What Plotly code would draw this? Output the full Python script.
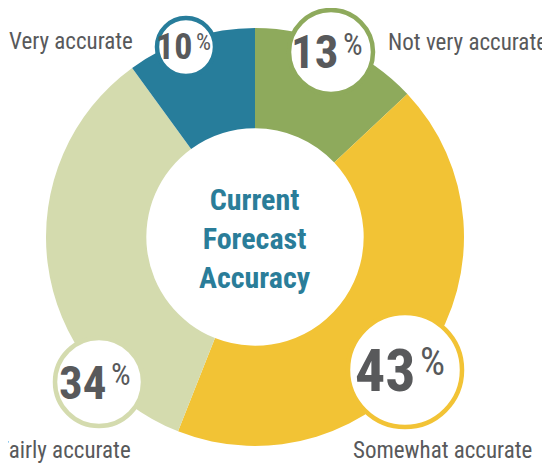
import plotly.graph_objects as go

# ── Data ──────────────────────────────────────────────────────────────────
labels = ["Not very accurate", "Somewhat accurate", "Fairly accurate", "Very accurate"]
values = [13, 43, 34, 10]
colors = ["#8eaa5c", "#f2c335", "#d4dbae", "#277d9b"]

# page is drawn with an 8px body margin, so the figure is a little smaller
OFF = 8
W, H = 550 - OFF, 464 - OFF

# badge placement in page pixels (cx, cy, radius, font size)
badges = [(331, 52, 42, 47), (405, 370, 57, 60), (99, 382, 44, 47), (186, 47, 29, 36)]
# label placement in page pixels (x, y, anchor)
label_pos = [(386, 42, "left"), (442, 450, "center"), (133, 450, "right"), (135, 41, "right")]

TEXT_GREY = "#58595b"
TEAL = "#2a7d99"
FONT = "Roboto Condensed, DejaVu Sans Condensed, sans-serif"


def px(x):
    return (x - OFF) / W


def py(y):
    return 1 - (y - OFF) / H


cx, cy, R = 255, 237, 209

fig = go.Figure(
    go.Pie(
        labels=labels, values=values,
        marker=dict(colors=colors, line=dict(width=0)),
        hole=0.52, sort=False, direction="clockwise", rotation=0,
        textinfo="none", hoverinfo="label+percent",
        domain=dict(x=[px(cx - R), px(cx + R)], y=[py(cy + R), py(cy - R)]),
        showlegend=False,
    )
)

# ── Percentage badges ─────────────────────────────────────────────────────
for (bx, by, br, fs), v, c in zip(badges, values, colors):
    fig.add_shape(
        type="circle", xref="paper", yref="paper", layer="above",
        x0=px(bx - br), x1=px(bx + br), y0=py(by + br), y1=py(by - br),
        fillcolor="white", line=dict(color=c, width=4.5),
    )
    # big number
    fig.add_annotation(
        x=px(bx + 0.22 * fs), y=py(by), xref="paper", yref="paper", showarrow=False,
        xanchor="right", yanchor="middle", text=f"<b>{v}</b>",
        font=dict(family=FONT, size=fs, color=TEXT_GREY),
    )
    # small raised percent sign
    fig.add_annotation(
        x=px(bx + 0.21 * fs), y=py(by - 0.15 * fs), xref="paper", yref="paper", showarrow=False,
        xanchor="left", yanchor="middle", text="%",
        font=dict(family=FONT, size=fs * 0.66, color=TEXT_GREY),
    )

# ── Category labels ───────────────────────────────────────────────────────
for (lx, ly, anc), lab in zip(label_pos, labels):
    fig.add_annotation(
        x=px(lx), y=py(ly), xref="paper", yref="paper", showarrow=False,
        xanchor=anc, yanchor="middle", text=lab,
        font=dict(family=FONT, size=23, color=TEXT_GREY),
    )

# ── Centre title ──────────────────────────────────────────────────────────
fig.add_annotation(
    x=px(cx), y=py(cy + 1), xref="paper", yref="paper", showarrow=False,
    text="<b>Current<br>Forecast<br>Accuracy</b>",
    font=dict(family=FONT, size=30, color=TEAL),
)

fig.update_layout(
    width=W, height=H,
    margin=dict(l=0, r=0, t=0, b=0),
    paper_bgcolor="white", plot_bgcolor="white",
)

fig.write_html("out.html")
